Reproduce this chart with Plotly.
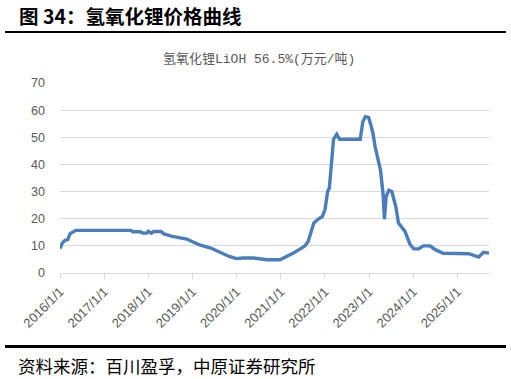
import plotly.graph_objects as go

# ---- data ----
dates = [
    "2016-01-01", "2016-01-20", "2016-02-10", "2016-03-05", "2016-03-25", "2016-04-15", "2016-05-10",
    "2017-08-10", "2017-08-25", "2017-10-25", "2017-11-15", "2017-12-20", "2018-01-01", "2018-01-25",
    "2018-02-15", "2018-04-15", "2018-05-10", "2018-07-10", "2018-09-20", "2018-11-15", "2019-01-05",
    "2019-03-01", "2019-06-01", "2019-08-15", "2019-11-01", "2020-01-01", "2020-02-20", "2020-05-20",
    "2020-07-15", "2020-09-10", "2020-12-25", "2021-02-20", "2021-04-15", "2021-06-01", "2021-07-20",
    "2021-08-15", "2021-09-10", "2021-10-01", "2021-11-05", "2021-12-10", "2022-01-01", "2022-01-23",
    "2022-02-06", "2022-02-28", "2022-03-13", "2022-04-08", "2022-05-01", "2022-10-20", "2022-11-10",
    "2022-12-01", "2022-12-28", "2023-01-17", "2023-02-02", "2023-02-20", "2023-04-05", "2023-04-26",
    "2023-05-08", "2023-05-22", "2023-06-13", "2023-07-08", "2023-08-10", "2023-09-01", "2023-10-01",
    "2023-10-25", "2023-12-05", "2024-01-05", "2024-02-15", "2024-03-25", "2024-05-20", "2024-07-01",
    "2024-09-05", "2024-12-31", "2025-04-05", "2025-06-25", "2025-08-05", "2025-09-19",
]
values = [
    9.0, 11.0, 12.0, 12.3, 14.5, 15.2, 15.7,
    15.7, 15.2, 15.2, 14.7, 14.7, 15.4, 14.7,
    15.3, 15.3, 14.4, 13.6, 12.9, 12.5, 11.4,
    10.4, 9.2, 7.7, 6.1, 5.3, 5.5, 5.5,
    5.1, 4.9, 4.9, 6.1, 7.4, 8.6, 10.0,
    11.6, 15.3, 18.4, 19.8, 20.8, 23.3, 30.0,
    31.2, 45.0, 49.3, 51.1, 49.3, 49.3, 55.7,
    57.6, 57.3, 54.3, 51.5, 46.5, 38.0, 29.4,
    19.8, 28.2, 30.5, 30.0, 24.5, 18.4, 16.5,
    15.3, 10.6, 8.9, 8.9, 10.0, 10.0, 8.6,
    7.3, 7.3, 7.1, 5.9, 7.6, 7.3,
]
tick_dates = ["2016-01-01", "2017-01-01", "2018-01-01", "2019-01-01", "2020-01-01",
              "2021-01-01", "2022-01-01", "2023-01-01", "2024-01-01", "2025-01-01"]
tick_labels = ["2016/1/1", "2017/1/1", "2018/1/1", "2019/1/1", "2020/1/1",
               "2021/1/1", "2022/1/1", "2023/1/1", "2024/1/1", "2025/1/1"]
y_ticks = [0, 10, 20, 30, 40, 50, 60, 70]

series_name = "氢氧化锂LiOH 56.5%(万元/吨)"
fig_title = "图 34：氢氧化锂价格曲线"
source_text = "资料来源：百川盈孚，中原证券研究所"

W, H = 511, 379
ML, MR, MT, MB = 60, 22, 83, 106
PH = H - MT - MB
PW = W - ML - MR


def py(y):  # pixel y -> paper y
    return (H - MB - y) / PH


def px(x):  # pixel x -> paper x
    return (x - ML) / PW


gray = "#595959"
grid = "#d9d9d9"

fig = go.Figure()
fig.add_trace(go.Scatter(
    x=dates, y=values, mode="lines",
    line=dict(color="#4A7EBB", width=3.4),
    name=series_name, showlegend=False,
))

fig.update_layout(
    width=W, height=H,
    margin=dict(l=ML, r=MR, t=MT, b=MB, autoexpand=False),
    paper_bgcolor="white", plot_bgcolor="white",
    font=dict(family="Liberation Sans, Arial, sans-serif", color=gray),
    xaxis=dict(
        type="date",
        range=["2016-01-01", "2025-09-19"],
        tickvals=tick_dates, ticktext=tick_labels,
        tickangle=-45,
        tickfont=dict(size=13, color=gray),
        showgrid=False, zeroline=False,
        showline=True, linecolor=grid, linewidth=1,
        ticks="outside", ticklen=5, tickcolor=grid, tickwidth=1,
        automargin=False,
    ),
    yaxis=dict(
        range=[0, 70], tickvals=y_ticks,
        tickfont=dict(size=12.5, color=gray),
        showgrid=True, gridcolor=grid, gridwidth=1,
        zeroline=False, showline=False, ticks="",
        ticklabelstandoff=14,
        automargin=False,
    ),
)

# top title
fig.add_annotation(
    text="<b>" + fig_title + "</b>",
    xref="paper", yref="paper", x=px(17), y=py(15),
    xanchor="left", yanchor="middle", showarrow=False,
    font=dict(family="Noto Sans CJK SC", size=19.5, color="#000000"),
)
# chart title
fig.add_annotation(
    text=series_name,
    xref="paper", yref="paper", x=px(259), y=py(59),
    xanchor="center", yanchor="middle", showarrow=False,
    font=dict(family="Liberation Mono, Noto Sans CJK SC", size=13, color=gray),
)
# source
fig.add_annotation(
    text=source_text,
    xref="paper", yref="paper", x=px(16), y=py(365),
    xanchor="left", yanchor="middle", showarrow=False,
    font=dict(family="Noto Sans CJK SC", size=17.5, color="#000000"),
)
# rules
fig.add_shape(type="line", xref="paper", yref="paper",
              x0=px(5), x1=px(506), y0=py(32), y1=py(32),
              line=dict(color="#000000", width=2))
fig.add_shape(type="line", xref="paper", yref="paper",
              x0=px(5), x1=px(506), y0=py(346.5), y1=py(346.5),
              line=dict(color="#000000", width=3))

fig.write_html("out.html")
